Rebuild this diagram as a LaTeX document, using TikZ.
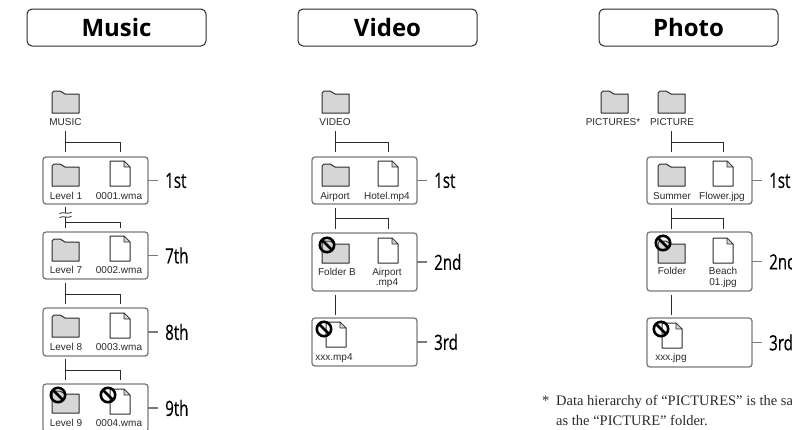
\documentclass[tikz,border=0pt]{standalone}
\usepackage{fontspec}
\usetikzlibrary{calc}
\setmainfont{Liberation Serif}
\newfontfamily\smallfont{Liberation Sans}
\newfontfamily\rankfont[FakeStretch=0.72,FakeBold=0.4]{Open Sans}
\newfontfamily\headfont{Open Sans}
\definecolor{ink}{HTML}{2B2B2B}
\definecolor{boxgray}{HTML}{7A7A7A}
\definecolor{foldergray}{HTML}{D6D6D6}
\tikzset{
  headbox/.style={draw=ink,line width=1pt,rounded corners=5pt,minimum width=179pt,minimum height=37pt,inner sep=0pt,outer sep=0pt,font=\headfont\fontsize{24}{24}\selectfont\bfseries,text=black},
  levelbox/.style={draw=boxgray,line width=1.3pt,rounded corners=3pt,inner sep=0pt,outer sep=0pt,anchor=north west},
  shapeline/.style={draw=ink,line width=1pt,fill=#1,line join=round},
  conn/.style={draw=ink,line width=1pt},
  tick/.style={draw=boxgray,line width=1.1pt},
  rank/.style={font=\rankfont\fontsize{21}{21}\selectfont,text=black,anchor=west,inner sep=0pt},
  lab/.style={font=\smallfont\fontsize{10}{10.5}\selectfont,text=ink,inner sep=0pt,anchor=base,align=center},
  foot/.style={font=\fontsize{14.5}{21}\selectfont,text=ink,inner sep=0pt,anchor=base west},
  nosign/.style={draw=black,line width=2.6pt}
}
% #1 name, #2 left x, #3 bottom y
\newcommand{\fldr}[3]{%
  \coordinate (#1) at ({#2+13.5},#3);
  \draw[shapeline=foldergray,shift={(#2,#3)}] (0,0) -- (0,-20) -- (2,-22) -- (8,-22) -- (13,-19) -- (27,-19) -- (27,0) -- cycle;
}
\newcommand{\dcmt}[3]{%
  \coordinate (#1) at ({#2+10},#3);
  \draw[shapeline=white,shift={(#2,#3)}] (0,0) -- (0,-25) -- (14,-25) -- (20,-19) -- (20,0) -- cycle;
  \draw[shapeline=foldergray,shift={(#2,#3)},line width=0.6pt] (14,-25) -- (14,-19) -- (20,-19) -- cycle;
}
\newcommand{\nosgn}[2]{%
  \draw[nosign,fill=none] (#1,#2) circle[radius=7.2pt];
  \draw[nosign] ({#1-5},{#2-5}) -- ({#1+5},{#2+5});
}
\newcommand{\lvl}[5]{%
  \node[levelbox,minimum width=105pt,minimum height=#4pt] (#1) at (#2,#3) {};
  \node[rank,xshift=17pt] (#1r) at (#1.east) {#5};
  \draw[tick] (#1.east) -- ++(10,0);
}
% tree connector: #1 upper y, #2 branch y, #3 lower y, #4 trunk node, #5 branch node
\newcommand{\tree}[5]{%
  \draw[conn] (#4 |- 0,#1) -- (#4 |- 0,#3);
  \draw[conn] (#4 |- 0,#2) -| (#5 |- 0,#3);
}
\begin{document}
\begin{tikzpicture}[x=1pt,y=-1pt]
\useasboundingbox (0,0) rectangle (792,429);
\clip (0,0) rectangle (792,429);
\fill[white] (0,0) rectangle (792,429);

% headers
\node[headbox] (hm) at (116.5,27.5) {Music};
\node[headbox] (hv) at (387.5,27.5) {Video};
\node[headbox] (hp) at (688.5,27.5) {Photo};

% ---------- Music
\fldr{mf0}{52}{113}
\node[lab] (mf0l) at (65.5,125) {MUSIC};
\lvl{m1}{43}{157}{47}{1st}
\fldr{mf1}{52}{186}\dcmt{md1}{110}{186}
\node[lab] (mf1l) at (66,199) {Level 1};
\node[lab] (md1l) at (119,199) {0001.wma};
\lvl{m7}{43}{232}{47}{7th}
\fldr{mf7}{52}{261}\dcmt{md7}{110}{261}
\node[lab] (mf7l) at (66,273.5) {Level 7};
\node[lab] (md7l) at (119,273.5) {0002.wma};
\lvl{m8}{43}{308}{48}{8th}
\fldr{mf8}{52}{337}\dcmt{md8}{110}{338}
\node[lab] (mf8l) at (66,350) {Level 8};
\node[lab] (md8l) at (119,350) {0003.wma};
\lvl{m9}{43}{384}{48}{9th}
\fldr{mf9}{52}{413}\dcmt{md9}{110}{414}
\nosgn{58}{395}\nosgn{108}{395}
\node[lab] (mf9l) at (66,426) {Level 9};
\node[lab] (md9l) at (119,426) {0004.wma};

\tree{131}{142}{152}{mf0}{md1}
\draw[conn] (mf1 |- 0,207) -- (mf1 |- 0,213);
\draw[conn] (mf1 |- 0,217) -- (mf1 |- 0,228);
\draw[conn] (mf1 |- 0,222) -| (md7 |- 0,228);
\draw[conn,line width=0.8pt] ($(mf1 |- 0,213)+(-6,0.7)$) .. controls ($(mf1 |- 0,213)+(-2,-2)$) and ($(mf1 |- 0,213)+(2,2)$) .. ($(mf1 |- 0,213)+(6,-0.7)$);
\draw[conn,line width=0.8pt] ($(mf1 |- 0,217)+(-6,0.7)$) .. controls ($(mf1 |- 0,217)+(-2,-2)$) and ($(mf1 |- 0,217)+(2,2)$) .. ($(mf1 |- 0,217)+(6,-0.7)$);
\tree{283}{294}{304}{mf7}{md8}
\tree{359}{370}{380}{mf8}{md9}

% ---------- Video
\fldr{vf0}{322}{113}
\node[lab] (vf0l) at (335,125) {VIDEO};
\lvl{v1}{312}{157}{47}{1st}
\fldr{vf1}{322}{186}\dcmt{vd1}{378}{186}
\node[lab] (vf1l) at (335,199) {Airport};
\node[lab] (vd1l) at (387,199) {Hotel.mp4};
\lvl{v2}{312}{233}{58}{2nd}
\fldr{vf2}{322}{263}\dcmt{vd2}{378}{263}
\nosgn{327}{245}
\node[lab] (vf2l) at (337,275) {Folder B};
\node[lab] (vd2l) at (387,285.5) {Airport\\.mp4};
\lvl{v3}{312}{318}{48}{3rd}
\dcmt{vd3}{326}{347}
\nosgn{324}{329}
\node[lab] (vd3l) at (334,360) {xxx.mp4};

\tree{131}{142}{152}{vf0}{vd1}
\tree{208}{218}{229}{vf1}{vd2}
\draw[conn] (vf2 |- 0,295) -- (vf2 |- 0,315);

% ---------- Photo
\fldr{pfx}{601}{113}
\node[lab] (pfxl) at (613,125) {PICTURES*};
\fldr{pf0}{658}{113}
\node[lab] (pf0l) at (672,125) {PICTURE};
\lvl{p1}{647}{157}{47}{1st}
\fldr{pf1}{658}{186}\dcmt{pd1}{713}{186}
\node[lab] (pf1l) at (672,199) {Summer};
\node[lab] (pd1l) at (722,199) {Flower.jpg};
\lvl{p2}{647}{232}{59}{2nd}
\fldr{pf2}{658}{263}\dcmt{pd2}{713}{263}
\nosgn{663}{243}
\node[lab] (pf2l) at (672,274.5) {Folder};
\node[lab] (pd2l) at (723,285) {Beach\\01.jpg};
\lvl{p3}{647}{318}{49}{3rd}
\dcmt{pd3}{662}{348}
\nosgn{661}{329}
\node[lab] (pd3l) at (671,360) {xxx.jpg};

\tree{131}{142}{152}{pf0}{pd1}
\tree{208}{218}{229}{pf1}{pd2}
\draw[conn] (pf2 |- 0,295) -- (pf2 |- 0,315);

% footnote
\node[foot] (fstar) at (542,405) {*};
\node[foot] (fl1) at (556,405) {Data hierarchy of “PICTURES” is the same};
\node[foot] (fl2) at (556,425) {as the “PICTURE” folder.};
\end{tikzpicture}
\end{document}
